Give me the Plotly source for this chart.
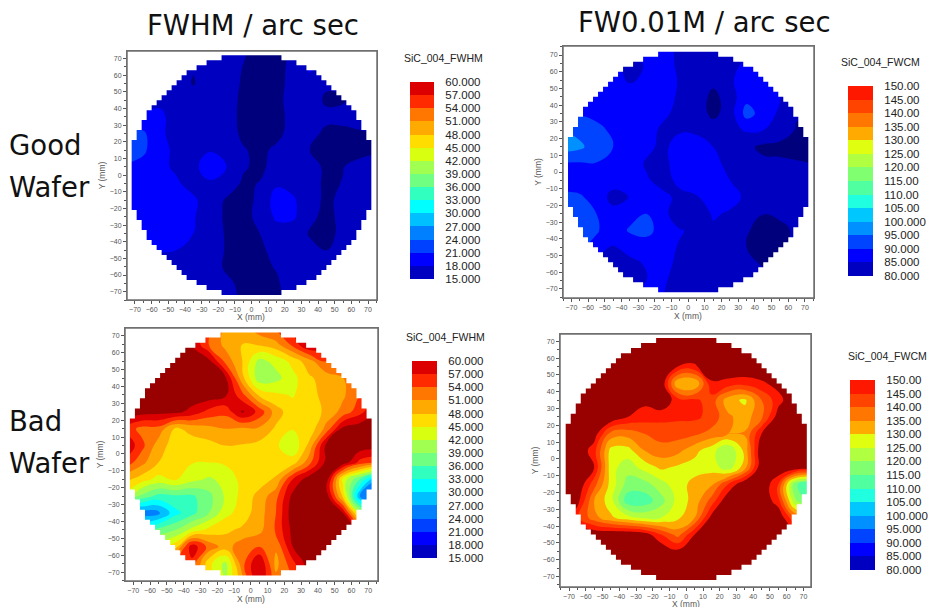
import math
import plotly.graph_objects as go

grid_mm = [-75, -65, -55, -45, -35, -25, -15, -5, 5, 15, 25, 35, 45, 55, 65, 75]
rows_mm = [75, 65, 55, 45, 35, 25, 15, 5, -5, -15, -25, -35, -45, -55, -65, -75]

good_fwhm = [
    [17, 17, 17, 17, 16.5, 16.5, 16.5, 15.5, 14, 14, 15.5, 16.5, 16.5, 16.5, 16.5, 16.5],
    [17, 17, 17, 16.5, 15.2, 16.5, 16.5, 14.9, 14, 14, 15.8, 18.3, 16.5, 16.5, 16.5, 16.5],
    [17, 17, 17, 16.5, 14.8, 16.5, 16.5, 14.6, 14, 14, 16, 17.5, 15.5, 15.8, 16.5, 16.5],
    [17, 17, 17.5, 16.5, 16.5, 16.5, 16, 14.5, 13.8, 14.3, 16, 16.5, 14.5, 14.7, 16.5, 16.5],
    [19, 18.5, 18.5, 17, 16.5, 16.5, 16, 14.4, 13.8, 14, 16, 16.5, 15.8, 16, 16.5, 16.5],
    [22.5, 21.5, 18.5, 17, 16.8, 16.5, 16.2, 14.5, 14, 14.3, 16, 16, 14.3, 14.2, 14.6, 15.2],
    [23, 21.5, 19, 17.3, 17.5, 17.9, 16.6, 15.2, 14.4, 15.5, 16.2, 15, 14, 14, 14, 14.5],
    [20.5, 20, 18.7, 17.5, 17.6, 18.8, 18, 15.3, 14.4, 16, 16.5, 16, 14.5, 14.9, 16, 16.5],
    [19.5, 19.5, 19, 18.4, 16.9, 17.8, 16.5, 14.6, 15.1, 17.5, 17, 16, 14.5, 15.1, 16.5, 16.5],
    [19.5, 19.5, 19.4, 19, 18.5, 16.5, 14.7, 14.5, 15.3, 19.5, 18.4, 16, 14.5, 15.6, 16.5, 16.5],
    [19.5, 19.5, 19.5, 19.2, 18.3, 16.2, 14.6, 14.4, 15.5, 18.6, 18.5, 15.5, 14.4, 15.6, 16.5, 16.5],
    [19, 19, 19, 19, 18, 16, 14.8, 14.3, 15, 16.5, 16.3, 14.8, 14.4, 15.5, 16.5, 16.5],
    [18.5, 18.5, 18.2, 18, 16.8, 16.2, 14.8, 14.3, 14.4, 16, 16.5, 15.6, 14.9, 16, 16.5, 16.5],
    [17, 17, 17, 16.5, 16.5, 16.2, 14.6, 14, 14.3, 15.2, 16.5, 16.5, 16.5, 16.5, 16.5, 16.5],
    [17, 17, 17, 16.5, 16.5, 16.5, 15.5, 14.4, 14, 14.6, 16.5, 16.5, 16.5, 16.5, 16.5, 16.5],
    [17, 17, 17, 16.5, 16.5, 16.5, 16, 14.5, 14, 14.5, 16, 16.5, 16.5, 16.5, 16.5, 16.5],
]

good_fwcm = [
    [88, 88, 88, 88, 88, 88, 87, 84, 83, 83, 83, 83, 83, 83, 83, 83],
    [88, 88, 88, 86, 84.3, 85.2, 87, 84, 83, 82, 83, 86, 84, 83, 83, 83],
    [88, 88, 88, 87, 84.3, 86, 87.5, 84.5, 83, 81.5, 84, 88, 87.5, 84, 83, 83],
    [88, 88, 88, 88, 88, 88, 87.5, 84, 83, 78.5, 82.5, 88.5, 88.5, 85, 82.5, 82],
    [89, 89.5, 88.5, 88, 88, 88, 86, 83.5, 83, 78.5, 82.5, 92, 88, 84, 80.5, 80],
    [95, 93.5, 91.5, 89, 88, 87, 84, 84.5, 84, 83, 83.5, 85.5, 85, 83, 79.5, 79],
    [97.5, 96, 92.5, 90, 88, 86, 84, 87, 87.5, 85, 83, 81, 79, 78.5, 78, 78],
    [89.5, 89.5, 89.8, 88.5, 87, 84.5, 83.5, 87.5, 88, 86.5, 83.5, 82.5, 81, 81, 80.5, 80],
    [88, 88, 88, 87.5, 87.5, 85.5, 83.5, 86, 87.5, 87.5, 85, 83.5, 83, 83, 83, 83],
    [91, 90.5, 88.5, 83, 85.2, 87, 86, 84, 84.5, 90, 88, 83.5, 83, 83, 83, 83],
    [91.5, 91.5, 90, 87, 88.5, 90, 87.5, 79.8, 79.8, 86, 84, 82, 80.1, 81, 83, 83],
    [90, 91, 90.5, 87.5, 90.5, 91.5, 88, 85.5, 83.5, 83.5, 83, 80.5, 78, 78.5, 81, 83],
    [90, 90, 88.5, 84.5, 87, 87.5, 87, 84.5, 83, 83, 83, 80, 78, 79, 82, 83],
    [87, 87, 85, 83.5, 83.5, 85.5, 86.5, 83.8, 83, 83, 83, 81.5, 79.5, 81, 83, 83],
    [88, 88, 87, 87, 83.5, 85, 85.5, 83.5, 83, 83, 83, 83, 83, 83, 83, 83],
    [88, 88, 88, 88, 87, 87, 85, 83.5, 83, 83, 83, 83, 83, 83, 83, 83],
]

bad_fwhm = [
    [62, 62, 62, 62, 62, 56, 50, 50, 53, 55, 58, 62, 62, 56, 52, 52],
    [62, 62, 62, 62, 60, 54, 50, 48, 48.5, 50, 55, 60.5, 58, 54, 52, 52],
    [62, 62, 62, 62, 62, 61, 53, 48, 41, 43, 46, 50, 54, 53, 50, 50],
    [62, 62, 62, 62, 62, 62, 60.5, 49, 40, 41, 44, 47.5, 49.5, 51, 53, 54],
    [62, 62, 62, 62, 62, 62, 60.5, 55, 47.5, 45.5, 44.8, 46.5, 49.5, 50.5, 54, 57],
    [62, 61.5, 61, 61, 59, 56, 55, 60.5, 56, 49.5, 46, 45.5, 49, 52, 56, 60],
    [56, 53, 53, 47.5, 49, 50, 51, 50.5, 50.5, 47.5, 45.2, 46, 52, 61, 62, 62],
    [60, 55, 49.5, 46.5, 46.5, 47, 48, 47.8, 47, 45.5, 42.5, 49, 61, 62, 62, 62],
    [56, 52, 48, 46.2, 45.2, 45, 45.5, 46.5, 46.5, 46, 46.5, 53, 61, 62, 56, 54],
    [49, 46.5, 44, 45.5, 43, 41.5, 43, 46, 46.5, 48.5, 57, 62, 62, 44, 36, 27],
    [44, 38, 35, 35.5, 35.5, 38, 42.5, 46, 49, 53, 61, 62, 62, 47, 27, 24],
    [24, 25, 26, 32, 35, 39, 44, 46.5, 49.5, 54, 62, 62, 62, 60, 42, 32],
    [32, 34, 37, 39, 43, 46, 47.5, 48.5, 50, 54.5, 61, 62, 62, 62, 60, 60],
    [44, 44, 44, 47, 59, 53, 49.5, 53, 54, 51.5, 60, 62, 62, 62, 62, 62],
    [50, 50, 52, 55, 56, 46, 41, 53, 60.5, 50, 56, 62, 62, 62, 62, 62],
    [50, 50, 52, 55, 55, 48, 42, 50, 60, 52, 54, 62, 62, 62, 62, 62],
]

bad_fwcm = [
    [155, 155, 155, 155, 155, 155, 155, 155, 155, 155, 155, 155, 155, 155, 155, 155],
    [155, 155, 155, 155, 155, 155, 155, 155, 155, 155, 155, 155, 155, 155, 155, 155],
    [155, 155, 155, 155, 155, 155, 155, 150, 149, 155, 155, 155, 155, 155, 155, 155],
    [155, 155, 155, 155, 155, 155, 155, 130, 129.5, 149, 148, 147, 149, 152, 155, 155],
    [155, 155, 155, 155, 155, 151.5, 155, 147, 146, 143, 132, 129, 140, 148, 155, 155],
    [155, 155, 155, 155, 150, 147.5, 146.5, 146, 146, 143.5, 136, 132.5, 139, 153, 155, 155],
    [155, 155, 153, 138, 137, 140, 142, 142, 141, 138, 135, 135.5, 150, 155, 155, 155],
    [155, 155, 147, 128, 128, 135, 138, 136.5, 131.5, 127, 120, 131.5, 155, 155, 155, 155],
    [155, 155, 150, 127, 122, 127, 131, 129, 128, 128, 122, 133, 155, 155, 155, 155],
    [155, 155, 142, 128, 118, 118, 123, 128, 131.5, 134, 145, 155, 155, 145, 116, 110],
    [155, 152, 135, 127, 112, 112, 118, 127, 132, 142, 155, 155, 155, 147, 121, 112],
    [155, 146, 137, 131, 127, 124, 125, 129, 135, 152, 155, 155, 155, 155, 140, 135],
    [155, 155, 155, 155, 155, 153, 145, 138, 150, 155, 155, 155, 155, 155, 155, 155],
    [155, 155, 155, 155, 155, 155, 155, 151.5, 155, 155, 155, 155, 155, 155, 155, 155],
    [155, 155, 155, 155, 155, 155, 155, 155, 155, 155, 155, 155, 155, 155, 155, 155],
    [155, 155, 155, 155, 155, 155, 155, 155, 155, 155, 155, 155, 155, 155, 155, 155],
]

fwhm_levels = [15, 18, 21, 24, 27, 30, 33, 36, 39, 42, 45, 48, 51, 54, 57, 60]
fwhm_labels = ["15.000", "18.000", "21.000", "24.000", "27.000", "30.000", "33.000", "36.000",
               "39.000", "42.000", "45.000", "48.000", "51.000", "54.000", "57.000", "60.000"]
fwcm_levels = [80, 85, 90, 95, 100, 105, 110, 115, 120, 125, 130, 135, 140, 145, 150]
fwcm_labels = ["80.000", "85.000", "90.000", "95.000", "100.000", "105.00", "110.00", "115.00",
               "120.00", "125.00", "130.00", "135.00", "140.00", "145.00", "150.00"]

UNDER = "#00007d"
OVER = "#990000"
fwhm_colors = ["#0000c0", "#0000ff", "#0040ff", "#0080ff", "#00c0ff", "#00ffff", "#30ffc0", "#70ff80",
               "#a0ff50", "#d8ff10", "#ffdd00", "#ffaa00", "#ff7700", "#ff2a00", "#dd0000"]
fwcm_colors = ["#0000c0", "#0000ff", "#0044ff", "#0090ff", "#00c8ff", "#20ffe0", "#50ffa0", "#80ff70",
               "#b0ff40", "#e0ff10", "#ffaa00", "#ff7700", "#ff4400", "#ff1800"]

W, H = 928, 607
TICK = "#555555"
FRAME = "#707070"
WAFER_R2 = 5508
CELL = 3
EDGE = 72


def wafer_edge():
    """Staircase outline of the wafer mask, in mm."""
    right = []
    y = -EDGE
    while y < EDGE:
        outer = max(abs(y), abs(y + CELL))
        half = EDGE if outer <= 21 else int(math.sqrt(WAFER_R2 - outer ** 2) // CELL) * CELL
        right.append((half, y))
        right.append((half, y + CELL))
        y += CELL
    left = [(-a, b) for a, b in reversed(right)]
    return right + left


def flat(colors):
    n = len(colors)
    out = []
    for i, c in enumerate(colors):
        out.append([i / n, c])
        out.append([(i + 1) / n, c])
    return out


fig = go.Figure()
layout = {}
shapes = []
annotations = []

panels = [
    dict(z=good_fwhm, lv=fwhm_levels, lb=fwhm_labels, col=fwhm_colors, fx=(127, 377), fy=(51, 300),
         rx=(-74.8, 75.4), ry=(-75, 74.5), bar=(410, 434), bary=(82, 279), title="SiC_004_FWHM", tt=(443, 58),
         xtitle=(251, 317)),
    dict(z=good_fwcm, lv=fwcm_levels, lb=fwcm_labels, col=fwcm_colors, fx=(563, 814), fy=(46, 298),
         rx=(-75, 75.4), ry=(-75.4, 75.4), bar=(848, 873), bary=(86, 276), title="SiC_004_FWCM", tt=(880, 62),
         xtitle=(688, 316)),
    dict(z=bad_fwhm, lv=fwhm_levels, lb=fwhm_labels, col=fwhm_colors, fx=(125, 378), fy=(328, 581),
         rx=(-74.9, 75.8), ry=(-75.3, 74.7), bar=(412, 437), bary=(361, 558), title="SiC_004_FWHM", tt=(445, 337),
         xtitle=(251, 599)),
    dict(z=bad_fwcm, lv=fwcm_levels, lb=fwcm_labels, col=fwcm_colors, fx=(560, 811), fy=(334, 587),
         rx=(-75.4, 74.5), ry=(-76.2, 74.4), bar=(850, 875), bary=(380, 570), title="SiC_004_FWCM", tt=(887, 356),
         xtitle=(686, 604)),
]

edge = wafer_edge()

for i, p in enumerate(panels):
    ax = 2 * i + 1
    lg = 2 * i + 2
    lv, step = p["lv"], p["lv"][1] - p["lv"][0]
    stops = [UNDER] + p["col"] + [OVER]
    fig.add_trace(go.Contour(
        x=grid_mm, y=rows_mm, z=p["z"], xaxis=f"x{ax}", yaxis=f"y{ax}",
        autocontour=False,
        contours=dict(start=lv[0], end=lv[-1], size=step, coloring="fill", showlines=False),
        colorscale=[[k / (len(stops) - 1), c] for k, c in enumerate(stops)],
        line=dict(width=0, smoothing=1.3), showscale=False, hoverinfo="skip",
    ))
    axis_common = dict(
        showgrid=False, zeroline=False, ticks="outside", ticklen=3, tickwidth=1, tickcolor=TICK,
        tick0=0, dtick=10, tickangle=0, tickfont=dict(family="Liberation Sans", size=7, color=TICK),
        minor=dict(ticks="outside", ticklen=2, dtick=5, tickcolor=TICK, tickwidth=1),
        showline=True, linecolor=FRAME, linewidth=1, mirror=True, fixedrange=True, automargin=False,
    )
    layout[f"xaxis{ax}"] = dict(
        axis_common, domain=[p["fx"][0] / W, p["fx"][1] / W], range=list(p["rx"]), anchor=f"y{ax}",
    )
    annotations.append(dict(text="X (mm)", x=p["xtitle"][0] / W, y=1 - p["xtitle"][1] / H, xref="paper", yref="paper",
                            showarrow=False, xanchor="center", yanchor="middle", borderpad=0,
                            font=dict(family="Liberation Sans", size=8.5, color=TICK)))
    layout[f"yaxis{ax}"] = dict(
        axis_common, domain=[1 - p["fy"][1] / H, 1 - p["fy"][0] / H], range=list(p["ry"]), anchor=f"x{ax}",
        title=dict(text="Y (mm)", standoff=2, font=dict(family="Liberation Sans", size=8.5, color=TICK)),
    )
    # white mask with the wafer's staircase hole
    x0, x1 = p["rx"]
    y0, y1 = p["ry"]
    path = f"M{x0},{y0}L{x1},{y0}L{x1},{y1}L{x0},{y1}Z M" + "L".join(f"{a},{b}" for a, b in edge) + "Z"
    shapes.append(dict(type="path", path=path, xref=f"x{ax}", yref=f"y{ax}", fillcolor="white",
                       line=dict(width=0), layer="above"))
    shapes.append(dict(type="rect", x0=x0, x1=x1, y0=y0, y1=y1, xref=f"x{ax}", yref=f"y{ax}",
                       line=dict(color=FRAME, width=1.5), fillcolor="rgba(0,0,0,0)", layer="above"))
    # legend bar
    n = len(p["col"])
    fig.add_trace(go.Heatmap(
        x=[0, 1], y=lv, z=[[k] for k in range(n)], xaxis=f"x{lg}", yaxis=f"y{lg}",
        zmin=-0.5, zmax=n - 0.5, colorscale=flat(p["col"]), showscale=False, hoverinfo="skip",
    ))
    layout[f"xaxis{lg}"] = dict(domain=[p["bar"][0] / W, p["bar"][1] / W], range=[0, 1], anchor=f"y{lg}",
                                visible=False, fixedrange=True, automargin=False)
    layout[f"yaxis{lg}"] = dict(domain=[1 - p["bary"][1] / H, 1 - p["bary"][0] / H], range=[lv[0], lv[-1]],
                                anchor=f"x{lg}", side="right", showgrid=False, zeroline=False, showline=False,
                                ticks="outside", ticklen=8, tickcolor="rgba(0,0,0,0)", automargin=False,
                                tickvals=lv, ticktext=p["lb"], fixedrange=True,
                                tickfont=dict(family="Liberation Sans", size=11.5, color="#222222"))
    annotations.append(dict(text=p["title"], x=p["tt"][0] / W, y=1 - p["tt"][1] / H, xref="paper", yref="paper",
                            showarrow=False, xanchor="center", yanchor="middle",
                            font=dict(family="Liberation Sans", size=10.5, color="#222222")))

big = dict(family="DejaVu Sans", size=27.5, color="#111111")
for text, px, py, anchor in [("FWHM / arc sec", 253, 25, "center"), ("FW0.01M / arc sec", 704, 22, "center"),
                             ("Good", 7, 145, "left"), ("Wafer", 7, 187, "left"),
                             ("Bad", 7, 421, "left"), ("Wafer", 7, 463, "left")]:
    annotations.append(dict(text=text, x=px / W, y=1 - py / H, xref="paper", yref="paper", showarrow=False,
                            xanchor=anchor, yanchor="middle", font=big))

fig.update_layout(width=W, height=H, autosize=False, margin=dict(l=0, r=0, t=0, b=0), paper_bgcolor="white",
                  plot_bgcolor="white", showlegend=False, shapes=shapes, annotations=annotations, **layout)
fig.write_html("out.html", config=dict(displayModeBar=False),
               post_script="document.body.style.margin='0';document.body.style.overflow='hidden';")
